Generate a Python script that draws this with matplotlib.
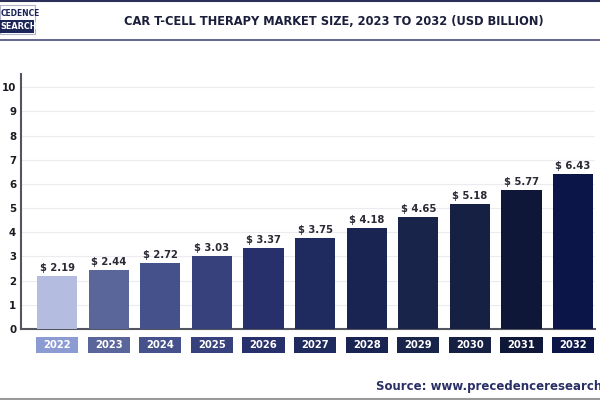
import matplotlib
matplotlib.use("Agg")
import matplotlib.pyplot as plt
from matplotlib.patches import Rectangle
from matplotlib.lines import Line2D

years = ["2022", "2023", "2024", "2025", "2026", "2027", "2028", "2029", "2030", "2031", "2032"]
values = [2.19, 2.44, 2.72, 3.03, 3.37, 3.75, 4.18, 4.65, 5.18, 5.77, 6.43]
bar_colors = ["#b4bde0", "#5a6699", "#45518b", "#37417c", "#28306b", "#1f2b5f", "#1a2452",
              "#18244a", "#152043", "#0f1738", "#0b1547"]
box_colors = ["#8c9bd2", "#5a6699", "#45518b", "#37417c", "#28306b", "#1f2b5f", "#1a2452",
              "#18244a", "#152043", "#0f1738", "#0b1547"]
yticks = [0, 1, 2, 3, 4, 5, 6, 7, 8, 9, 10]

FONT = dict(family="DejaVu Sans", fontstretch="condensed", fontweight="bold")

fig = plt.figure(figsize=(6, 4), dpi=100)
fig.patch.set_facecolor("white")

ax = fig.add_axes([0.035, 0.1775, 0.957, 0.6375])
x = list(range(len(years)))
ax.bar(x, values, width=0.78, color=bar_colors, zorder=3)
for xi, v in zip(x, values):
    ax.text(xi, v + 0.12, f"$ {v:.2f}", ha="center", va="bottom", fontsize=8,
            color="#2a2a35", **FONT)
ax.set_xlim(-0.70, 10.43)
ax.set_ylim(0, 10.55)
ax.set_yticks(yticks)
ax.set_yticklabels([str(t) for t in yticks], fontsize=8.2, color="#1a1a22", **FONT)
ax.tick_params(axis="y", length=0, pad=3.5)
ax.set_xticks([])
ax.grid(axis="y", color="#ececf0", linewidth=0.8, zorder=0)
for s in ["top", "right"]:
    ax.spines[s].set_visible(False)
ax.spines["left"].set_color("#555560")
ax.spines["bottom"].set_color("#555560")
ax.spines["left"].set_linewidth(1.5)
ax.spines["bottom"].set_linewidth(1.5)

# year label boxes
trans = ax.get_xaxis_transform()
for xi, yr, c in zip(x, years, box_colors):
    ax.add_patch(Rectangle((xi - 0.41, -0.031), 0.82, -0.064, transform=trans,
                           facecolor=c, edgecolor="none", clip_on=False))
    ax.text(xi, -0.063, yr, transform=trans, ha="center", va="center", fontsize=8,
            color="white", **FONT)

# header lines
fig.add_artist(Line2D([0, 1], [0.997, 0.997], color="#2c2f5a", linewidth=1.5))
fig.add_artist(Line2D([0, 1], [0.90, 0.90], color="#4a4c7a", linewidth=1.2))
fig.add_artist(Line2D([0, 1], [0.003, 0.003], color="#9a9a9a", linewidth=1.5))

fig.text(0.556, 0.947, "CAR T-CELL THERAPY MARKET SIZE, 2023 TO 2032 (USD BILLION)",
         ha="center", va="center", fontsize=9.2, color="#1c1f3c", **FONT)

# logo fragment
fig.add_artist(Rectangle((0, 0.915), 0.058, 0.072, transform=fig.transFigure,
                         facecolor="white", edgecolor="#b0b4c8", linewidth=0.8))
fig.text(0.001, 0.966, "CEDENCE", ha="left", va="center", fontsize=6, color="#1c2557", **FONT)
fig.add_artist(Rectangle((0, 0.918), 0.056, 0.032, transform=fig.transFigure,
                         facecolor="#1c2557", edgecolor="none"))
fig.text(0.001, 0.934, "SEARCH", ha="left", va="center", fontsize=6.5, color="white", **FONT)

fig.text(0.627, 0.033, "Source: www.precedenceresearch.com", ha="left", va="center",
         fontsize=8.5, fontweight="bold", color="#2a2f66", family="DejaVu Sans")

fig.savefig("out.png", dpi=100)
